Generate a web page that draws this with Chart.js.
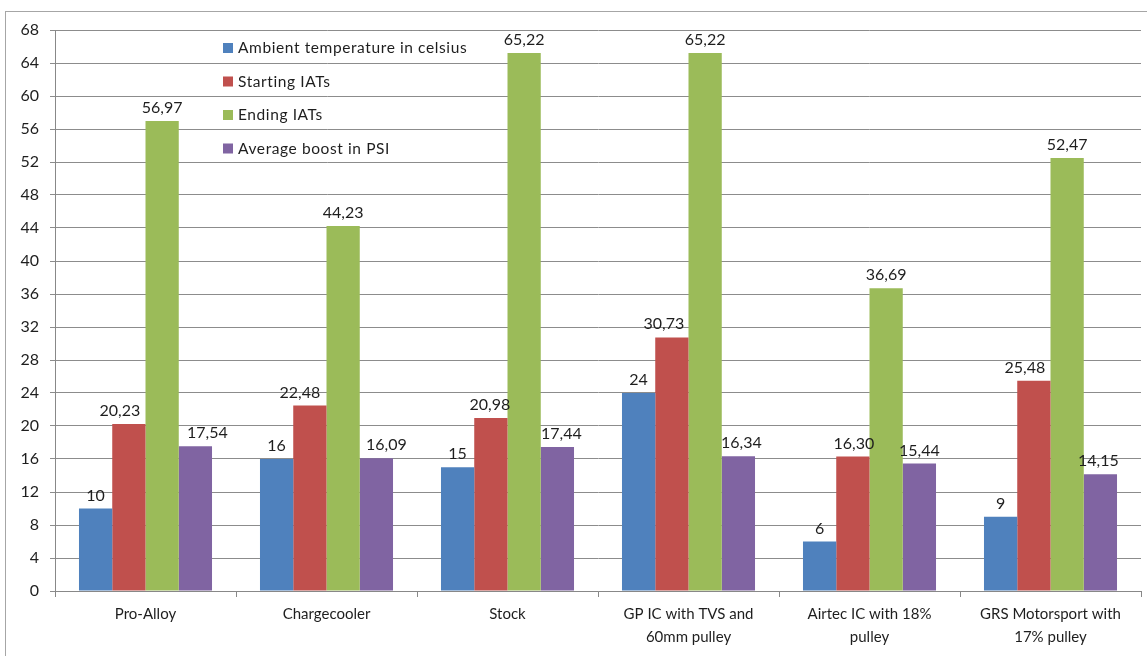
<!DOCTYPE html>
<html>
<head>
<meta charset="utf-8">
<script src="https://cdn.jsdelivr.net/npm/chart.js@4/dist/chart.umd.min.js"></script>
<style>
  html, body { margin: 0; padding: 0; background: #fff; }
  #wrap { width: 1147px; height: 656px; position: relative; }
</style>
</head>
<body>
<div id="wrap"><canvas id="barChart" width="1147" height="656"></canvas></div>
<script>
var categories = [
    'Pro-Alloy',
    'Chargecooler',
    'Stock',
    ['GP IC with TVS and', '60mm pulley'],
    ['Airtec IC with 18%', 'pulley'],
    ['GRS Motorsport with', '17% pulley']
];
var ambient = [10, 16, 15, 24, 6, 9];
var startIAT = [20.23, 22.48, 20.98, 30.73, 16.30, 25.48];
var endIAT = [56.97, 44.23, 65.22, 65.22, 36.69, 52.47];
var boost = [17.54, 16.09, 17.44, 16.34, 15.44, 14.15];
var seriesNames = ['Ambient temperature in celsius', 'Starting IATs', 'Ending IATs', 'Average boost in PSI'];
var seriesColors = ['#4f81bd', '#c0504d', '#9bbb59', '#8064a2'];

var FONT = 'Lato, "Noto Sans", sans-serif';
var TEXT = '#1e1e1e';

// Excel pushed some labels sideways so they don't run into the tall green bars
var labelNudge = {
    1: [-9, -10, -1, -8, 1, -9],
    3: [12, 10, 4, 3, 0, -2]
};

function fmt(v) {
    return Number.isInteger(v) ? String(v) : v.toFixed(2).replace('.', ',');
}

// frame + value labels + legend inside the plot
var excelBits = {
    id: 'excelBits',
    beforeDraw: function (chart) {
        var c = chart.ctx;
        c.save();
        c.strokeStyle = '#a6a6a6';
        c.lineWidth = 1;
        c.strokeRect(5.5, 11.5, 1160, 700);
        c.restore();
    },
    afterDatasetsDraw: function (chart) {
        var c = chart.ctx;
        c.save();
        c.font = '16px ' + FONT;
        c.fillStyle = TEXT;
        c.textAlign = 'center';
        c.textBaseline = 'alphabetic';
        chart.data.datasets.forEach(function (ds, i) {
            chart.getDatasetMeta(i).data.forEach(function (bar, j) {
                var dx = labelNudge[i] ? labelNudge[i][j] : 0;
                c.fillText(fmt(ds.data[j]), bar.x + dx, bar.y - 8);
            });
        });
        // legend
        c.textAlign = 'left';
        c.textBaseline = 'middle';
        c.font = '15.5px ' + FONT;
        c.letterSpacing = '0.6px';
        chart.data.datasets.forEach(function (ds, i) {
            var y = 48 + i * 33.5;
            c.fillStyle = ds.backgroundColor;
            c.fillRect(223, y - 5, 10, 10);
            c.fillStyle = TEXT;
            c.fillText(ds.label, 238, y);
        });
        c.restore();
    }
};

var datasets = [ambient, startIAT, endIAT, boost].map(function (d, i) {
    return {
        label: seriesNames[i],
        data: d,
        backgroundColor: seriesColors[i],
        borderWidth: 0,
        barPercentage: 1,
        categoryPercentage: 0.735
    };
});

var ctx = document.getElementById('barChart').getContext('2d');
var barChart = new Chart(ctx, {
    type: 'bar',
    data: { labels: categories, datasets: datasets },
    plugins: [excelBits],
    options: {
        responsive: false,
        animation: false,
        layout: { padding: { left: 6, top: 30, right: 6, bottom: 0 } },
        plugins: {
            legend: { display: false },
            tooltip: { enabled: false }
        },
        scales: {
            x: {
                afterFit: function (s) { s.height = 65; },
                grid: {
                    offset: true,
                    drawOnChartArea: false,
                    drawTicks: true,
                    tickLength: 6,
                    color: '#888'
                },
                border: { color: '#888' },
                ticks: {
                    color: TEXT,
                    font: { family: FONT, size: 15, lineHeight: 1.5 },
                    padding: 6,
                    maxRotation: 0
                }
            },
            y: {
                min: 0,
                max: 68,
                afterFit: function (s) { s.width = 49; },
                ticks: {
                    stepSize: 4,
                    color: TEXT,
                    font: { family: FONT, size: 16 },
                    padding: 11
                },
                grid: { color: '#8c8c8c', tickLength: 5 },
                border: { color: '#888' }
            }
        }
    }
});
</script>
</body>
</html>
